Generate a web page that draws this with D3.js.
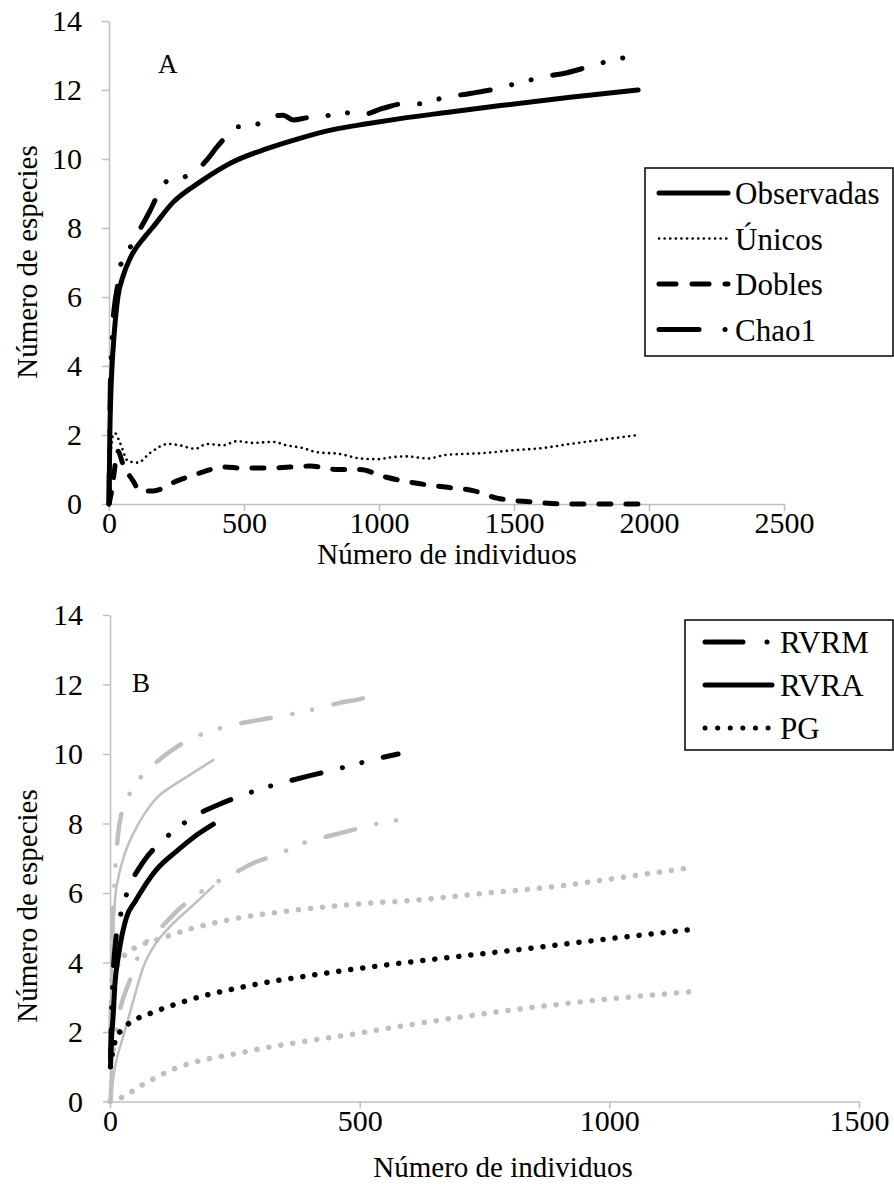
<!DOCTYPE html>
<html>
<head>
<meta charset="utf-8">
<script src="https://cdn.jsdelivr.net/npm/d3@7"></script>
<style>
  body { margin: 0; background: #fff; }
</style>
</head>
<body>
<svg id="chart" width="894" height="1194"></svg>
<script>
// ---- panel A data: [individuos, especies]
var observadas = [[0,0],[3,2],[6,3],[10,3.8],[20,5],[33,6],[52,6.6],[80,7.15],[133,7.75],[160,8.0],[238,8.75],[340,9.35],[460,9.92],[585,10.3],[707,10.6],[830,10.85],[955,11.02],[1078,11.17],[1250,11.35],[1450,11.55],[1700,11.78],[1960,12.0]];
var unicos = [[0,0],[5,1.2],[15,2.0],[22,2.05],[41,1.77],[70,1.25],[107,1.2],[152,1.48],[219,1.74],[263,1.7],[319,1.6],[363,1.74],[422,1.7],[474,1.82],[533,1.77],[607,1.8],[659,1.7],[719,1.62],[770,1.5],[855,1.45],[930,1.32],[993,1.3],[1052,1.36],[1100,1.38],[1181,1.32],[1245,1.42],[1393,1.48],[1500,1.56],[1604,1.62],[1707,1.74],[1815,1.85],[1960,2.0]];
var dobles = [[0,0],[8,0.3],[15,0.67],[33,1.53],[52,1.15],[89,0.67],[115,0.38],[163,0.38],[252,0.67],[337,0.9],[422,1.07],[496,1.04],[585,1.04],[670,1.07],[744,1.1],[844,1.0],[930,1.0],[1015,0.8],[1140,0.6],[1245,0.49],[1352,0.38],[1437,0.17],[1563,0.06],[1689,0],[1960,0]];
var chao1 = [[0,0],[3,2.5],[6,3.8],[11,4.7],[15,5.3],[22,5.85],[33,6.4],[37,6.7],[52,7.1],[72,7.35],[103,7.8],[152,8.5],[183,9.0],[213,9.35],[250,9.45],[287,9.5],[330,9.7],[362,9.97],[400,10.35],[440,10.7],[474,10.93],[533,10.95],[585,11.2],[645,11.27],[683,11.13],[744,11.2],[782,11.2],[855,11.37],[930,11.27],[1015,11.47],[1090,11.6],[1163,11.6],[1226,11.75],[1337,11.9],[1411,12.0],[1485,12.14],[1622,12.4],[1696,12.5],[1774,12.67],[1867,12.87],[1956,13.0]];

// ---- panel B data
var rvrm = [[1,1.2],[3,2.5],[6,3.6],[12,4.7],[20,5.3],[34,6.0],[67,6.9],[93,7.35],[125,7.75],[160,8.13],[227,8.6],[263,8.8],[303,9.0],[347,9.18],[413,9.42],[453,9.56],[493,9.71],[533,9.86],[577,10.0]];
var rvrmUp = [[1,2],[4,4.5],[8,6],[12,7],[16,7.67],[23,8.3],[40,8.87],[87,9.68],[120,10.07],[157,10.4],[200,10.65],[267,10.9],[307,11.0],[347,11.1],[413,11.3],[460,11.47],[500,11.58],[540,11.73]];
var rvrmLo = [[1,0],[5,1.0],[10,1.8],[20,2.63],[40,3.5],[57,4.2],[73,4.6],[97,4.93],[140,5.56],[173,5.94],[203,6.23],[240,6.5],[293,6.9],[327,7.06],[393,7.47],[447,7.67],[493,7.84],[530,7.98],[577,8.1]];
var rvra = [[1,1.0],[3,1.8],[6,2.4],[10,3.4],[17,4.2],[33,5.3],[50,5.75],[67,6.15],[93,6.67],[133,7.2],[167,7.6],[207,7.98]];
var rvraUp = [[1,2],[4,4],[10,5.8],[17,6.46],[30,7.15],[47,7.72],[70,8.3],[93,8.73],[127,9.1],[160,9.4],[207,9.83]];
var rvraLo = [[0,0],[10,1.0],[25,1.8],[35,2.3],[47,2.92],[67,3.88],[87,4.45],[120,5.03],[167,5.66],[207,6.2]];
var pg = [[1,1.0],[5,1.4],[10,1.72],[23,2.06],[43,2.29],[87,2.57],[153,2.9],[267,3.3],[407,3.64],[553,3.93],[670,4.13],[813,4.36],[980,4.65],[1172,4.96]];
var pgUp = [[1,1.5],[5,3],[12,3.8],[27,4.17],[47,4.4],[93,4.65],[160,4.96],[247,5.25],[367,5.5],[513,5.7],[600,5.78],[733,5.97],[900,6.2],[1040,6.48],[1160,6.72]];
var pgLo = [[0,0],[25,0.13],[65,0.48],[122,0.9],[271,1.43],[500,1.97],[597,2.2],[787,2.6],[980,2.92],[1172,3.17]];

var yTicks = [0, 2, 4, 6, 8, 10, 12, 14];
var xTicksA = [0, 500, 1000, 1500, 2000, 2500];
var xTicksB = [0, 500, 1000, 1500];

var black = "#000", grey = "#bfbfbf";
var fsTick = 30, fsTitle = 29, fsLegend = 31;
var serif = "'Liberation Serif', Tinos, 'Times New Roman', serif";

var svg = d3.select("#chart").attr("font-family", serif);

// line styles
var solid = "none",
    dotsSmall = "0.1,5.5",
    dotsBig = "0.1,12",
    dash = "12,15",
    dashDotDot = "30,22,0.1,20,0.1,22";

function txt(sel, size) {
    return sel.attr("font-family", serif).style("font-family", serif)
        .style("font-size", size + "px").attr("fill", black);
}

function panel(cfg) {
    var x = d3.scaleLinear().domain(cfg.xDomain).range(cfg.xRange);
    var y = d3.scaleLinear().domain([0, 14]).range(cfg.yRange);
    var g = svg.append("g");

    var yAxis = d3.axisLeft(y).tickValues(yTicks).tickSize(7).tickSizeOuter(0).tickPadding(20).tickFormat(d3.format("d"));
    var xAxis = d3.axisBottom(x).tickValues(cfg.xTicks).tickSize(7).tickSizeOuter(0).tickPadding(1).tickFormat(d3.format("d"));

    var ya = g.append("g").attr("transform", "translate(" + cfg.xRange[0] + ",0)").call(yAxis);
    var xa = g.append("g").attr("transform", "translate(0," + cfg.yRange[0] + ")").call(xAxis);
    [ya, xa].forEach(function (a) {
        a.attr("font-family", serif).attr("font-size", fsTick);
        a.selectAll("path, line").attr("stroke", grey).attr("stroke-width", 1.5);
        txt(a.selectAll("text"), fsTick);
    });

    var line = d3.line()
        .x(function (d) { return x(d[0]); })
        .y(function (d) { return y(d[1]); })
        .curve(d3.curveMonotoneX);

    cfg.series.forEach(function (s) {
        g.append("path")
            .datum(s.data)
            .attr("d", line)
            .attr("fill", "none")
            .attr("stroke", s.color)
            .attr("stroke-width", s.width)
            .attr("stroke-linecap", "round")
            .attr("stroke-linejoin", "round")
            .attr("stroke-dasharray", s.dash);
    });

    txt(g.append("text"), fsTitle)
        .attr("x", cfg.xTitleX)
        .attr("y", cfg.xTitleY)
        .attr("text-anchor", "middle")
        .text("Número de individuos");

    txt(g.append("text"), fsTitle)
        .attr("transform", "translate(" + 37 + "," + cfg.yTitleY + ") rotate(-90)")
        .attr("text-anchor", "middle")
        .text("Número de especies");

    txt(g.append("text"), 27)
        .attr("x", cfg.tag[0])
        .attr("y", cfg.tag[1])
        .text(cfg.tagText);

    // legend
    var L = cfg.legend;
    g.append("rect")
        .attr("x", L.x).attr("y", L.y).attr("width", L.w).attr("height", L.h)
        .attr("fill", "#fff").attr("stroke", black).attr("stroke-width", 1.5);
    L.items.forEach(function (it, i) {
        var cy = L.y + L.first + i * L.step;
        g.append("line")
            .attr("x1", L.sx0).attr("x2", L.sx1)
            .attr("y1", cy).attr("y2", cy)
            .attr("stroke", black)
            .attr("stroke-width", it.width)
            .attr("stroke-linecap", "round")
            .attr("stroke-dasharray", it.dash);
        txt(g.append("text"), fsLegend)
            .attr("x", L.tx).attr("y", cy + 11)
            .text(it.name);
    });
}

panel({
    xDomain: [0, 2500], xRange: [109, 784], yRange: [504, 21], xTicks: xTicksA,
    xTitleX: 447, xTitleY: 564, yTitleY: 262, tag: [158, 73], tagText: "A",
    series: [
        { data: unicos, color: black, width: 2.6, dash: dotsSmall },
        { data: dobles, color: black, width: 5, dash: dash },
        { data: chao1, color: black, width: 5, dash: dashDotDot },
        { data: observadas, color: black, width: 5, dash: solid }
    ],
    legend: {
        x: 645, y: 168, w: 248, h: 188, first: 25, step: 45.5, sx0: 659, sx1: 728, tx: 735,
        items: [
            { name: "Observadas", width: 5, dash: solid },
            { name: "Únicos", width: 2.6, dash: "0.1,5.5" },
            { name: "Dobles", width: 5, dash: "17,16" },
            { name: "Chao1", width: 5, dash: "40,26,0.1,40" }
        ]
    }
});

panel({
    xDomain: [0, 1500], xRange: [110, 859], yRange: [1101.5, 615], xTicks: xTicksB,
    xTitleX: 503, xTitleY: 1177, yTitleY: 906, tag: [132, 692], tagText: "B",
    series: [
        { data: rvrmUp, color: grey, width: 4.5, dash: dashDotDot },
        { data: rvrmLo, color: grey, width: 4.5, dash: dashDotDot },
        { data: rvraUp, color: grey, width: 2.5, dash: solid },
        { data: rvraLo, color: grey, width: 2.5, dash: solid },
        { data: pgUp, color: grey, width: 5.5, dash: dotsBig },
        { data: pgLo, color: grey, width: 5.5, dash: dotsBig },
        { data: rvrm, color: black, width: 5, dash: dashDotDot },
        { data: rvra, color: black, width: 5, dash: solid },
        { data: pg, color: black, width: 5.5, dash: dotsBig }
    ],
    legend: {
        x: 685, y: 620, w: 208, h: 130, first: 22, step: 43, sx0: 705, sx1: 772, tx: 780,
        items: [
            { name: "RVRM", width: 5, dash: "38,24,0.1,40" },
            { name: "RVRA", width: 5, dash: solid },
            { name: "PG", width: 5, dash: "0.1,12.5" }
        ]
    }
});
</script>
</body>
</html>
